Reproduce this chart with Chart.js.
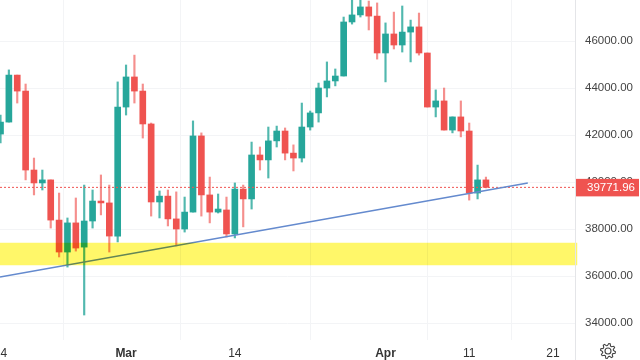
<!DOCTYPE html>
<html>
<head>
<meta charset="utf-8">
<style>
  html, body { margin: 0; background: #fff; }
  canvas { display: block; filter: blur(0.45px); }
</style>
<script src="https://cdn.jsdelivr.net/npm/chart.js@4/dist/chart.umd.min.js"></script>
</head>
<body>
<canvas id="priceChart" width="640" height="360"></canvas>
<script>
// Daily candles, 14 Feb to 14 Apr
const opens = [42040,42550,44550,43870,40510,39960,40090,38380,37020,38260,37230,38340,39190,39110,37700,43190,44470,43870,42470,39150,39400,38430,38000,38720,41960,39450,38720,38810,37790,39700,39280,41150,40940,41750,42170,41230,41020,42340,42940,44000,44300,44510,46810,47110,47450,47060,45490,46300,45830,46380,46600,45490,43190,43450,42210,42770,42170,39530,40090];
const highs = [42850,44770,44550,44170,41020,40510,40090,39530,38470,39320,39870,39660,40300,39870,44260,44980,45400,44170,42510,39620,39660,39580,39360,42600,42090,40210,39490,39360,39960,39870,41700,41490,42340,42380,42300,41580,43360,43020,44210,45110,44810,47020,47740,47740,47700,47620,46770,47230,47490,46890,47190,45490,43920,44000,42770,43450,42510,40720,40210];
const lows = [41660,42550,43360,40090,39450,39660,38040,36810,36380,37060,34340,38040,38600,37020,37450,42850,43360,41870,38550,38470,38130,37280,37870,38720,38550,38260,38680,37660,37620,38090,38850,40510,40170,41490,40940,40470,40850,42210,42550,43620,44090,44510,46720,47020,46470,45230,44260,45660,45530,45110,45400,43190,42770,42210,42090,41920,39230,39280,39750];
const closes = [42550,44550,43870,40510,39960,40090,38380,37020,38260,37190,38340,39190,39110,37700,43190,44470,43870,42470,39150,39400,38430,38000,38720,41960,39450,38720,38850,37790,39700,39280,41150,40940,41750,42170,41230,41020,42340,42940,44000,44300,44510,46810,47110,47450,47060,45490,46300,45830,46380,46600,45490,43190,43450,42210,42770,42170,39530,40090,39771.96];

const lastPrice = 39771.96;
const zoneTop = 37400;
const zoneBottom = 36470;
const trendDays = [-0.06, 63];
const trendPrices = [35960, 39960];

const priceTicks = [34000, 36000, 38000, 40000, 42000, 44000, 46000];
const dayTicks = [0, 15, 28, 46, 56, 66];
const dayLabels = ['14', 'Mar', '14', 'Apr', '11', '21'];

const UP = '#26a69a';
const DOWN = '#ef5350';
const UP_WICK = 'rgba(38, 166, 154, 0.8)';
const DOWN_WICK = 'rgba(239, 83, 80, 0.65)';
const GRID = '#f3f4f6';
const FONT = '"Liberation Sans", sans-serif';

const days = opens.map((o, i) => i);
const bodyColors = opens.map((o, i) => closes[i] >= o ? UP : DOWN);
const wickColors = opens.map((o, i) => closes[i] >= o ? UP_WICK : DOWN_WICK);

// The yellow band tints what is under it, so it is multiplied over the candles
const zoneBlend = {
    id: 'zoneBlend',
    beforeDatasetDraw(chart, args) {
        if (chart.data.datasets[args.index].label === 'Zone') {
            chart.ctx.save();
            chart.ctx.globalCompositeOperation = 'multiply';
        }
    },
    afterDatasetDraw(chart, args) {
        if (chart.data.datasets[args.index].label === 'Zone') {
            chart.ctx.restore();
        }
    }
};

// Price box, axis line and gear are drawn over the scales
const axisExtras = {
    id: 'axisExtras',
    afterDraw(chart) {
        const ctx = chart.ctx;
        const y = chart.scales.y.getPixelForValue(lastPrice);
        ctx.save();
        ctx.strokeStyle = '#e4e5e8';
        ctx.beginPath();
        ctx.moveTo(575.5, 0);
        ctx.lineTo(575.5, 360);
        ctx.stroke();

        ctx.fillStyle = DOWN;
        ctx.fillRect(576, y - 8.5, 63, 17.5);
        ctx.fillStyle = '#fff';
        ctx.font = '11.5px ' + FONT;
        ctx.textAlign = 'left';
        ctx.textBaseline = 'middle';
        ctx.fillText(lastPrice.toFixed(2), 587, y + 0.5);

        // Settings gear
        const cx = 608, cy = 351;
        ctx.strokeStyle = '#444';
        ctx.lineWidth = 1.1;
        ctx.beginPath();
        for (let i = 0; i < 32; i++) {
            const a = i / 32 * Math.PI * 2;
            const r = i % 4 < 2 ? 7.5 : 5.5;
            const px = cx + Math.cos(a + 0.1) * r;
            const py = cy + Math.sin(a + 0.1) * r;
            if (i === 0) ctx.moveTo(px, py); else ctx.lineTo(px, py);
        }
        ctx.closePath();
        ctx.stroke();
        ctx.beginPath();
        ctx.arc(cx, cy, 3, 0, Math.PI * 2);
        ctx.stroke();
        ctx.restore();
    }
};

new Chart(document.getElementById('priceChart'), {
    type: 'bar',
    plugins: [zoneBlend, axisExtras],
    data: {
        datasets: [
            {
                label: 'Zone',
                data: [{ x: 34.4, y: [zoneBottom, zoneTop] }],
                backgroundColor: 'rgb(255, 247, 105)',
                barThickness: 577,
                grouped: false,
                clip: false,
                order: 0
            },
            {
                label: 'Trend',
                type: 'line',
                data: trendDays.map((d, i) => ({ x: d, y: trendPrices[i] })),
                borderColor: '#648ace',
                borderWidth: 1.5,
                pointRadius: 0,
                order: 1
            },
            {
                label: 'Last',
                type: 'line',
                data: [{ x: -0.06, y: lastPrice }, { x: 68.64, y: lastPrice }],
                borderColor: '#ef5350',
                borderWidth: 1,
                borderDash: [2, 2],
                pointRadius: 0,
                order: 3
            },
            {
                label: 'Body',
                data: days.map(i => ({ x: i, y: [opens[i], closes[i]] })),
                backgroundColor: bodyColors,
                barThickness: 6,
                grouped: false,
                order: 4
            },
            {
                label: 'Wick',
                data: days.map(i => ({ x: i, y: [lows[i], highs[i]] })),
                backgroundColor: wickColors,
                barThickness: 1.5,
                grouped: false,
                order: 5
            }
        ]
    },
    options: {
        responsive: false,
        animation: false,
        events: [],
        layout: { padding: 0 },
        plugins: { legend: { display: false }, tooltip: { enabled: false } },
        scales: {
            x: {
                type: 'linear',
                offset: false,
                min: -0.06,
                max: 68.64,
                border: { display: false },
                grid: { color: GRID, drawTicks: false },
                afterBuildTicks(scale) {
                    scale.ticks = dayTicks.map(v => ({ value: v }));
                },
                afterFit(scale) {
                    scale.height = 20;
                    scale.paddingLeft = 0;
                    scale.paddingRight = 0;
                },
                ticks: {
                    autoSkip: false,
                    maxRotation: 0,
                    padding: 6,
                    color: '#333',
                    font(c) {
                        const bold = c.index === 1 || c.index === 3;
                        return { family: FONT, size: 12, weight: bold ? 'bold' : 'normal' };
                    },
                    callback(v, i) {
                        return dayLabels[i];
                    }
                }
            },
            y: {
                position: 'right',
                min: 33277,
                max: 47745,
                border: { display: false },
                grid: { color: GRID, drawTicks: false },
                afterBuildTicks(scale) {
                    scale.ticks = priceTicks.map(v => ({ value: v }));
                },
                afterFit(scale) {
                    scale.width = 65;
                    scale.paddingTop = 0;
                    scale.paddingBottom = 0;
                },
                ticks: {
                    padding: 10,
                    color: '#444',
                    font: { family: FONT, size: 11.5 },
                    callback(v) {
                        return v.toFixed(2);
                    }
                }
            }
        }
    }
});
</script>
</body>
</html>
